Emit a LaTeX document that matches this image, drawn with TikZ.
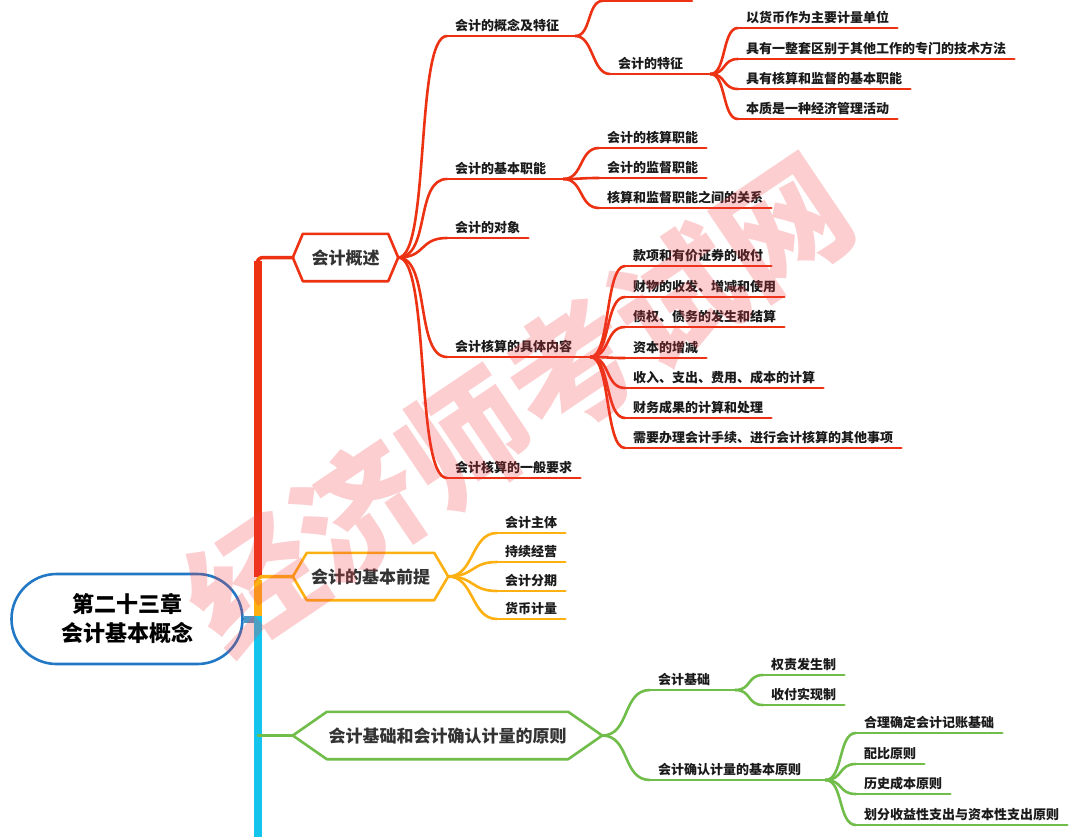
\documentclass[tikz,border=0pt]{standalone}
\usepackage{fontspec}
\setmainfont{Noto Sans CJK SC}
\definecolor{redc}{RGB}{236,50,18}
\definecolor{orgc}{RGB}{253,176,18}
\definecolor{grnc}{RGB}{112,189,74}
\definecolor{cyanc}{RGB}{20,196,236}
\definecolor{rootc}{RGB}{34,120,196}
\definecolor{stubc}{RGB}{74,152,200}
\definecolor{leaftxt}{RGB}{26,26,26}
\definecolor{hextxt}{RGB}{51,51,51}
\definecolor{wmc}{RGB}{245,60,70}

\tikzset{
  leaf/.style={anchor=south west, inner xsep=8pt, inner ysep=5pt, text height=11pt, text depth=0pt,
    align=left, font=\bfseries\fontsize{13}{13}\selectfont, text=leaftxt,
    append after command={(\tikzlastnode.south west) edge[draw=#1, line width=2.6pt] (\tikzlastnode.south east)}},
  hexnode/.style={inner sep=0pt, minimum height=47pt, font=\bfseries\fontsize{17}{17}\selectfont, text=hextxt},
  twig/.style={line width=2.6pt, to path={.. controls +(#1,0) and +(-#1,0) .. (\tikztotarget)}},
}
\newcommand\hexframe[3]{\draw[#2, line width=2.6pt] (#1.west) -- ([xshift=#3pt]#1.north west) -- ([xshift=-#3pt]#1.north east) -- (#1.east) -- ([xshift=-#3pt]#1.south east) -- ([xshift=#3pt]#1.south west) -- cycle;}

\begin{document}
\begin{tikzpicture}[x=1pt,y=-1pt,line cap=round,line join=round]
  \useasboundingbox (0,0) rectangle (1079,836);
  \clip (0,0) rectangle (1079,836);
  \fill[white] (0,0) rectangle (1079,836);

  % root and trunk
  \node[draw=rootc, line width=2.6pt, rounded corners=45pt, minimum width=231pt, minimum height=90pt,
    align=center, font=\bfseries\fontsize{22}{29}\selectfont, text=black] (root) at (127,619) {第二十三章\\会计基本概念};
  \coordinate (tk1) at (258,577);
  \coordinate (tk2) at (258,619);
  \coordinate (tk3) at (258,840);
  \draw[stubc, line width=7pt, line cap=butt] (root.east) -- (tk2);
  \draw[redc, line width=8pt, line cap=butt] (tk1) -- (258,261);
  \draw[orgc, line width=8pt, line cap=butt] (258,616) -- (258,580);
  \draw[cyanc, line width=8pt, line cap=butt] (258,616) -- (tk3);

  % hexagons
  \node[hexnode, minimum width=105pt] (ov) at (345.5,257.5) {会计概述};
  \hexframe{ov}{redc}{10}
  \node[hexnode, minimum width=155pt] (pr) at (370.5,576.5) {会计的基本前提};
  \hexframe{pr}{orgc}{14}
  \node[hexnode, minimum width=309pt] (yz) at (447.5,735.5) {会计基础和会计确认计量的原则};
  \hexframe{yz}{grnc}{34}
  \draw[redc, line width=3.5pt, rounded corners=6pt] (257,272) |- (ov.west);
  \draw[orgc, line width=3.5pt, rounded corners=6pt] (257,590) |- (pr.west);
  \draw[grnc, line width=2.6pt] (258,735.5) -- (yz.west);

  % 会计概述
  \node[leaf=redc, text width=112pt] (gn) at (447,36) {会计的概念及特征};
  \coordinate (gn0) at (603,0.8);
  \coordinate (gn0e) at (692,0.8);
  \node[leaf=redc, text width=84pt] (tz) at (610,74) {会计的特征};
  \node[leaf=redc] (tz1) at (738,28) {以货币作为主要计量单位};
  \node[leaf=redc] (tz2) at (738,59) {具有一整套区别于其他工作的专门的技术方法};
  \node[leaf=redc] (tz3) at (738,89) {具有核算和监督的基本职能};
  \node[leaf=redc] (tz4) at (738,119) {本质是一种经济管理活动};
  \node[leaf=redc, text width=100pt] (zn) at (447,179) {会计的基本职能};
  \node[leaf=redc] (zn1) at (599,148) {会计的核算职能};
  \node[leaf=redc] (zn2) at (599,178) {会计的监督职能};
  \node[leaf=redc] (zn3) at (599,208) {核算和监督职能之间的关系};
  \node[leaf=redc] (dx) at (447,238) {会计的对象};
  \node[leaf=redc, text width=127pt] (nr) at (447,357) {会计核算的具体内容};
  \node[leaf=redc] (nr1) at (625,266) {款项和有价证券的收付};
  \node[leaf=redc] (nr2) at (625,297) {财物的收发、增减和使用};
  \node[leaf=redc] (nr3) at (625,327) {债权、债务的发生和结算};
  \node[leaf=redc] (nr4) at (625,358) {资本的增减};
  \node[leaf=redc] (nr5) at (625,388) {收入、支出、费用、成本的计算};
  \node[leaf=redc] (nr6) at (625,418) {财务成果的计算和处理};
  \node[leaf=redc] (nr7) at (625,448) {需要办理会计手续、进行会计核算的其他事项};
  \node[leaf=redc] (yq) at (447,478) {会计核算的一般要求};

  \draw[redc, twig=32] (ov.east) to (gn.south west);
  \draw[redc, twig=32] (ov.east) to (zn.south west);
  \draw[redc, twig=28] (ov.east) to (dx.south west);
  \draw[redc, twig=32] (ov.east) to (nr.south west);
  \draw[redc, twig=32] (ov.east) to (yq.south west);
  \draw[redc, twig=16] (gn.south east) to (gn0);
  \draw[redc, line width=2.6pt] (gn0) -- (gn0e);
  \draw[redc, twig=18] (gn.south east) to (tz.south west);
  \draw[redc, twig=16] (tz.south east) to (tz1.south west);
  \draw[redc, twig=16] (tz.south east) to (tz2.south west);
  \draw[redc, twig=16] (tz.south east) to (tz3.south west);
  \draw[redc, twig=16] (tz.south east) to (tz4.south west);
  \draw[redc, twig=20] (zn.south east) to (zn1.south west);
  \draw[redc, twig=20] (zn.south east) to (zn2.south west);
  \draw[redc, twig=20] (zn.south east) to (zn3.south west);
  \draw[redc, twig=20] (nr.south east) to (nr1.south west);
  \draw[redc, twig=20] (nr.south east) to (nr2.south west);
  \draw[redc, twig=20] (nr.south east) to (nr3.south west);
  \draw[redc, twig=20] (nr.south east) to (nr4.south west);
  \draw[redc, twig=20] (nr.south east) to (nr5.south west);
  \draw[redc, twig=20] (nr.south east) to (nr6.south west);
  \draw[redc, twig=20] (nr.south east) to (nr7.south west);

  % 会计的基本前提
  \node[leaf=orgc] (pr1) at (497,533) {会计主体};
  \node[leaf=orgc] (pr2) at (497,562) {持续经营};
  \node[leaf=orgc] (pr3) at (497,591) {会计分期};
  \node[leaf=orgc] (pr4) at (497,619) {货币计量};
  \draw[orgc, twig=26] (pr.east) to (pr1.south west);
  \draw[orgc, twig=26] (pr.east) to (pr2.south west);
  \draw[orgc, twig=26] (pr.east) to (pr3.south west);
  \draw[orgc, twig=26] (pr.east) to (pr4.south west);

  % 会计基础和会计确认计量的原则
  \node[leaf=grnc, text width=69pt] (jc) at (650,690) {会计基础};
  \node[leaf=grnc] (jc1) at (763,675) {权责发生制};
  \node[leaf=grnc] (jc2) at (763,705) {收付实现制};
  \node[leaf=grnc, text width=159pt] (yzb) at (650,780) {会计确认计量的基本原则};
  \node[leaf=grnc] (yzb1) at (856,733) {合理确定会计记账基础};
  \node[leaf=grnc] (yzb2) at (856,764) {配比原则};
  \node[leaf=grnc] (yzb3) at (856,794) {历史成本原则};
  \node[leaf=grnc] (yzb4) at (856,825) {划分收益性支出与资本性支出原则};
  \draw[grnc, twig=28] (yz.east) to (jc.south west);
  \draw[grnc, twig=28] (yz.east) to (yzb.south west);
  \draw[grnc, twig=16] (jc.south east) to (jc1.south west);
  \draw[grnc, twig=16] (jc.south east) to (jc2.south west);
  \draw[grnc, twig=18] (yzb.south east) to (yzb1.south west);
  \draw[grnc, twig=18] (yzb.south east) to (yzb2.south west);
  \draw[grnc, twig=18] (yzb.south east) to (yzb3.south west);
  \draw[grnc, twig=18] (yzb.south east) to (yzb4.south west);

  % watermark
  \node[rotate=34, text=wmc, text opacity=0.25, font=\bfseries\fontsize{128}{128}\selectfont] (wm) at (518,404) {经济师考试网};
\end{tikzpicture}
\end{document}
